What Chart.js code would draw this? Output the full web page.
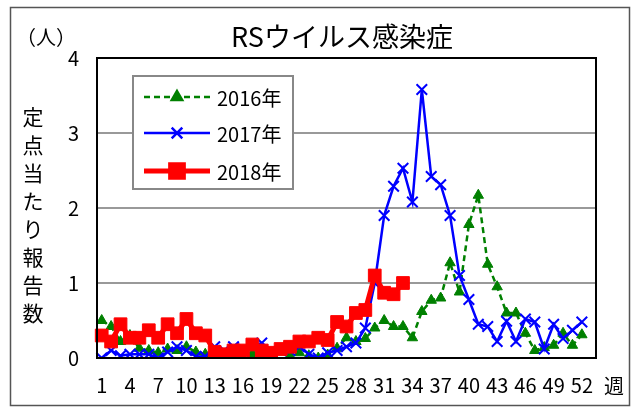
<!DOCTYPE html>
<html lang="ja">
<head>
<meta charset="utf-8">
<title>RSウイルス感染症</title>
<script src="https://cdn.jsdelivr.net/npm/chart.js@4.4.1/dist/chart.umd.min.js"></script>
<style>
  html, body { margin: 0; padding: 0; background: #fff; }
  #wrap { position: relative; width: 635px; height: 410px; }
</style>
</head>
<body>
<div id="wrap"><canvas id="chart" width="635" height="410"></canvas></div>
<script>
/* RSウイルス感染症 — 定点当たり報告数 (週別) */

const FONT = "'Noto Sans CJK JP', 'Noto Sans', sans-serif";

// weeks 1..53 (axis has 53 slots, labels every 3 weeks up to 52)
const weeks = Array.from({ length: 53 }, (_, i) => String(i + 1));
const yTicks = [0, 1, 2, 3, 4];
const seriesNames = ['2016年', '2017年', '2018年'];

const y2016 = [0.50, 0.42, 0.22, 0.30, 0.13, 0.10, 0.07, 0.12, 0.10, 0.15,
               0.08, 0.05, 0.05, 0.05, 0.05, 0.00, 0.06, 0.05, 0.05, 0.08,
               0.03, 0.07, 0.03, 0.00, 0.04, 0.13, 0.27, 0.22, 0.26, 0.40,
               0.50, 0.42, 0.42, 0.27, 0.62, 0.77, 0.80, 1.27, 0.88, 1.78,
               2.17, 1.25, 0.95, 0.60, 0.60, 0.33, 0.10, 0.14, 0.17, 0.33,
               0.17, 0.31];

const y2017 = [0.00, 0.10, 0.03, 0.05, 0.05, 0.05, 0.00, 0.08, 0.15, 0.10,
               0.02, 0.02, 0.15, 0.10, 0.15, 0.12, 0.15, 0.20, 0.10, 0.10,
               0.10, 0.15, 0.05, 0.00, 0.07, 0.10, 0.15, 0.20, 0.40, 1.00,
               1.90, 2.29, 2.53, 2.08, 3.58, 2.42, 2.31, 1.90, 1.10, 0.78,
               0.45, 0.42, 0.22, 0.49, 0.22, 0.52, 0.48, 0.12, 0.45, 0.26,
               0.37, 0.48];

const y2018 = [0.30, 0.22, 0.45, 0.27, 0.27, 0.37, 0.27, 0.45, 0.33, 0.52,
               0.33, 0.30, 0.08, 0.05, 0.10, 0.10, 0.18, 0.10, 0.07, 0.12,
               0.15, 0.22, 0.22, 0.27, 0.24, 0.48, 0.42, 0.60, 0.64, 1.10,
               0.87, 0.85, 1.00];

const yTitle = '定点当たり報告数';

const styles = [
  { color: '#008000', width: 2.5, dash: [6, 4], point: 'triangle', radius: 6, pbw: 1 },
  { color: '#0000ff', width: 2.5, dash: [], point: 'crossRot', radius: 7.5, pbw: 2 },
  { color: '#ff0000', width: 5, dash: [], point: 'rect', radius: 9, pbw: 1 }
];

// frame, titles, stacked y label and the boxed legend
const decor = {
  id: 'decor',
  afterDraw(chart) {
    const ctx = chart.ctx;
    const a = chart.chartArea;
    ctx.save();

    // plot frame
    ctx.strokeStyle = '#000';
    ctx.lineWidth = 2;
    ctx.strokeRect(a.left, a.top, a.right - a.left, a.bottom - a.top);

    // outer frame
    ctx.strokeStyle = '#555';
    ctx.lineWidth = 1.5;
    ctx.strokeRect(10.5, 7.5, 619, 398);

    ctx.fillStyle = '#000';
    ctx.textBaseline = 'middle';
    ctx.textAlign = 'center';
    ctx.font = `27px ${FONT}`;
    ctx.fillText('RSウイルス感染症', 342, 37);

    ctx.font = `20px ${FONT}`;
    ctx.fillText('（人）', 46, 37);
    ctx.fillText('週', 614, 386);

    ctx.font = `21px ${FONT}`;
    [...yTitle].forEach((ch, i) => ctx.fillText(ch, 33, 117 + i * 28));

    // legend box
    ctx.fillStyle = '#fff';
    ctx.fillRect(133, 76, 160, 113);
    ctx.strokeStyle = '#888';
    ctx.lineWidth = 2;
    ctx.strokeRect(133, 76, 160, 113);

    const rows = [97, 133, 171];
    seriesNames.forEach((name, i) => {
      const s = styles[i], y = rows[i];
      ctx.strokeStyle = s.color;
      ctx.lineWidth = s.width;
      ctx.setLineDash(s.dash);
      ctx.beginPath();
      ctx.moveTo(144, y);
      ctx.lineTo(210, y);
      ctx.stroke();
      ctx.setLineDash([]);
      ctx.fillStyle = s.color;
      Chart.helpers.drawPoint(ctx, { pointStyle: s.point, radius: s.radius, rotation: 0, borderWidth: s.pbw }, 177, y);
      ctx.fillStyle = '#000';
      ctx.textAlign = 'left';
      ctx.font = `20px ${FONT}`;
      ctx.fillText(name, 217, y + 1);
    });

    ctx.restore();
  }
};

const datasets = [y2016, y2017, y2018].map((data, i) => {
  const s = styles[i];
  return {
    label: seriesNames[i],
    data,
    order: 3 - i,
    borderColor: s.color,
    backgroundColor: s.color,
    borderWidth: s.width,
    borderDash: s.dash,
    pointStyle: s.point,
    pointRadius: s.radius,
    pointBorderWidth: s.pbw,
    pointBackgroundColor: s.color,
    pointBorderColor: s.color,
    tension: 0
  };
});

new Chart(document.getElementById('chart'), {
  type: 'line',
  data: { labels: weeks, datasets },
  options: {
    responsive: false,
    animation: false,
    layout: { padding: { left: 0, top: 58, right: 39, bottom: 0 } },
    plugins: { legend: { display: false }, title: { display: false }, tooltip: { enabled: false } },
    scales: {
      x: {
        type: 'category',
        offset: true,
        grid: { display: false, drawTicks: false },
        border: { display: false },
        afterFit: s => { s.height = 52; },
        ticks: {
          autoSkip: false, maxRotation: 0, padding: 15,
          color: '#000', font: { family: FONT, size: 20 },
          callback: (v, i) => (i % 3 === 0 && i < 52) ? weeks[i] : ''
        }
      },
      y: {
        min: 0, max: 4,
        afterFit: s => { s.width = 97; },
        afterBuildTicks: s => { s.ticks = yTicks.map(v => ({ value: v })); },
        grid: {
          drawTicks: false, lineWidth: 2,
          color: c => (c.tick.value === 0 || c.tick.value === 4) ? 'rgba(0,0,0,0)' : '#999'
        },
        border: { display: false },
        ticks: { padding: 18, color: '#000', font: { family: FONT, size: 20 } }
      }
    }
  },
  plugins: [decor]
});
</script>
</body>
</html>
